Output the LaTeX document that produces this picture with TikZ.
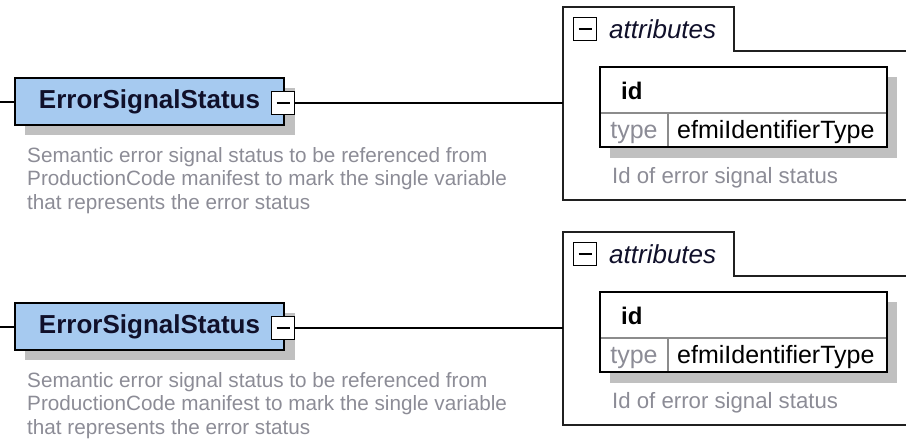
\documentclass[tikz,border=0pt]{standalone}
\usepackage{fontspec}
\setmainfont{Liberation Sans}
\definecolor{nodeblue}{HTML}{A6CAF0}
\definecolor{shadowgray}{HTML}{C0C0C0}
\definecolor{annot}{HTML}{8C8C96}
\definecolor{titlecol}{HTML}{10102A}
\definecolor{divgray}{HTML}{8C8C8C}
\definecolor{outerline}{HTML}{202020}
\tikzset{
  elembox/.style={draw=black, line width=2pt, fill=nodeblue, minimum width=269pt, minimum height=47pt, inner sep=0pt,
    font=\fontsize{26}{30}\selectfont\bfseries, text=titlecol},
  minusbox/.style={draw=black, line width=1.5pt, fill=white, minimum size=23pt, inner sep=0pt,
    path picture={\draw[line width=2pt] ([xshift=-6.5pt]path picture bounding box.center) -- ([xshift=6.5pt]path picture bounding box.center);}},
  annotext/.style={font=\fontsize{20.7}{23.5}\selectfont, text=annot, align=left, inner sep=0pt},
  attrannot/.style={font=\fontsize{22.2}{26}\selectfont, text=annot, inner sep=0pt},
  connector/.style={draw=black, line width=1.5pt},
  outerbox/.style={draw=outerline, line width=2pt},
  idbox/.style={draw=black, line width=2.2pt, fill=white, minimum width=287pt, minimum height=80pt, inner sep=0pt},
  divider/.style={draw=divgray, line width=1.5pt},
  shadowfill/.style={fill=shadowgray},
  tabtext/.style={font=\fontsize{26}{30}\selectfont\itshape, text=titlecol, inner sep=0pt},
  attrname/.style={font=\fontsize{24}{28}\selectfont\bfseries, text=black, inner sep=0pt},
  typelabel/.style={font=\fontsize{25}{28}\selectfont, text=annot, inner sep=0pt},
  typevalue/.style={font=\fontsize{25}{28}\selectfont, text=black, inner sep=0pt},
}
\begin{document}
\begin{tikzpicture}[x=1pt,y=-1pt]
\useasboundingbox (0,0) rectangle (906,445);
\foreach \dy/\s in {0/a,225/b}{
  % element shadow
  \fill[shadowfill] (25,{88+\dy}) rectangle (295,{135+\dy});
  % element node
  \node[elembox, anchor=west] (n\s) at (14,{101.5+\dy}) {ErrorSignalStatus};
  % left stub
  \coordinate (l\s) at (0,{102+\dy});
  \draw[connector] (l\s) -- (n\s.west |- l\s);
  % minus box
  \node[minusbox] (m\s) at (283,{103+\dy}) {};
  % attributes container
  \draw[outerbox] (908,{51+\dy}) -- (734,{51+\dy}) -- (734,{7+\dy}) -- (563,{7+\dy}) -- (563,{200+\dy}) -- (908,{200+\dy});
  \coordinate (c\s) at (563,{103+\dy});
  \draw[connector] (m\s.east) -- (c\s);
  % description
  \node[annotext, anchor=north west] (d\s) at (27,{147+\dy})
    {Semantic error signal status to be referenced from\\ProductionCode manifest to mark the single variable\\that represents the error status};
  % tab
  \node[minusbox] (t\s) at (585,{29+\dy}) {};
  \node[tabtext, anchor=base west] (tt\s) at (609,{38.5+\dy}) {attributes};
  % id box shadow
  \fill[shadowfill] (610,{77+\dy}) rectangle (897,{158+\dy});
  \node[idbox] (i\s) at (743.5,{107+\dy}) {};
  \draw[divider] (601,{113+\dy}) -- (886,{113+\dy});
  \draw[divider] (668,{113+\dy}) -- (668,{146+\dy});
  \node[attrname, anchor=base west] (id\s) at (621,{99+\dy}) {id};
  \node[typelabel, anchor=base] (ty\s) at (634,{138+\dy}) {type};
  \node[typevalue, anchor=base west] (tv\s) at (677,{138+\dy}) {efmiIdentifierType};
  \node[attrannot, anchor=base west] (ia\s) at (612,{183+\dy}) {Id of error signal status};
}
\end{tikzpicture}
\end{document}
